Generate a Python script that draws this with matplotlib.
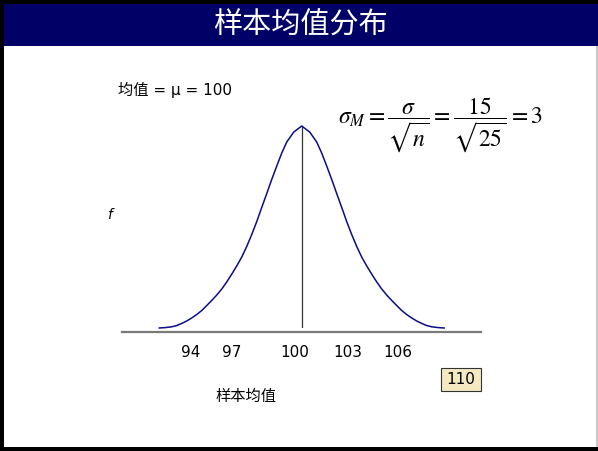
import numpy as np
import matplotlib
matplotlib.use("Agg")
import matplotlib.pyplot as plt
from matplotlib.patches import Rectangle
from matplotlib.transforms import Affine2D

plt.rcParams['font.family'] = ['DejaVu Sans', 'Noto Sans CJK SC']
plt.rcParams['mathtext.fontset'] = 'stix'

# ---- data ----
title = "样本均值分布"
mean_value = 100
# sampling-distribution outline (sample mean, relative frequency)
curve_x = [87.58, 88.14, 88.67, 89.10, 89.54, 89.97, 90.41, 90.85, 91.28,
           91.72, 92.15, 92.59, 93.03, 93.46, 93.90, 94.33, 94.77, 95.20,
           95.64, 96.08, 96.51, 96.95, 97.38, 97.82, 98.26, 98.69, 99.30,
           100.0,
           100.70, 101.31, 101.74, 102.18, 102.62, 103.05, 103.49, 103.92,
           104.36, 104.80, 105.23, 105.67, 106.10, 106.54, 106.97, 107.41,
           107.85, 108.28, 108.72, 109.15, 109.59, 110.03, 110.46, 110.90,
           111.33, 111.86, 112.42]
curve_f = [0.0, 0.0003, 0.0008, 0.0016, 0.0030, 0.0046, 0.0066, 0.0089,
           0.0115, 0.0148, 0.0181, 0.0217, 0.0257, 0.0303, 0.0355, 0.0408,
           0.0467, 0.0536, 0.0615, 0.0701, 0.0793, 0.0885, 0.0977, 0.1066,
           0.1152, 0.1224, 0.1290,
           0.1330,
           0.1290, 0.1224, 0.1152, 0.1066, 0.0977, 0.0885, 0.0793, 0.0701,
           0.0615, 0.0536, 0.0467, 0.0408, 0.0355, 0.0303, 0.0257, 0.0217,
           0.0181, 0.0148, 0.0115, 0.0089, 0.0066, 0.0046, 0.0030, 0.0016,
           0.0008, 0.0003, 0.0]
tick_labels = ["94", "97", "100", "103", "106"]
tick_positions = [90.35, 93.86, 99.42, 104.0, 108.37]
x_label = "样本均值"
mean_text = "均值 = μ = 100"
formula = r"$\sigma_{M} = \dfrac{\sigma}{\sqrt{n}} = \dfrac{15}{\sqrt{25}} = 3$"
box_text = "110"

W, H = 598, 451
fig = plt.figure(figsize=(W / 100, H / 100), dpi=100)
fig.patch.set_facecolor("black")

# pixel-from-top coordinate system for page furniture
pix = Affine2D().scale(1 / W, -1 / H).translate(0, 1) + fig.transFigure

fig.patches.append(Rectangle((4, 4), 592, 443, transform=pix,
                             facecolor="white", edgecolor="none", zorder=0))
fig.patches.append(Rectangle((596, 46), 2, 401, transform=pix,
                             facecolor="#c8c8c8", edgecolor="none", zorder=0))
fig.patches.append(Rectangle((4, 4), 594, 42, transform=pix,
                             facecolor="#000066", edgecolor="none", zorder=0))
fig.text(300, 26, title, transform=pix, color="white", fontsize=21,
         ha="center", va="center", family=["Noto Sans CJK SC"], zorder=2)

# ---- distribution axes ----
peak = max(curve_f)
ax = fig.add_axes([122 / W, (H - 328) / H, 359 / W, 202 / H])
ax.set_zorder(5)
ax.set_facecolor("none")
ax.plot(curve_x, curve_f, color="#0c0c88", lw=1.1, clip_on=False, zorder=3,
        solid_joinstyle="round")
ax.vlines(mean_value, 0, peak, color="#333333", lw=0.9, zorder=2)
ax.set_xlim(84.33, 115.63)
ax.set_ylim(0, peak)

for s in ["top", "left", "right"]:
    ax.spines[s].set_visible(False)
ax.spines["bottom"].set_position(("outward", 3))
ax.spines["bottom"].set_color("#7a7a7a")
ax.spines["bottom"].set_linewidth(1.6)
ax.set_yticks([])
ax.set_xticks(tick_positions, tick_labels)
ax.tick_params(axis="x", length=0, pad=9.5, labelsize=11, labelcolor="black")

# ---- annotations ----
fig.text(118, 90, mean_text, transform=pix, fontsize=11, ha="left", va="center", zorder=2)
fig.text(338, 125, formula, transform=pix, fontsize=17, ha="left", va="center", zorder=2)
fig.text(109, 215, "f", transform=pix, fontsize=10, style="italic",
         ha="center", va="center", zorder=2)
fig.text(246, 396, x_label, transform=pix, fontsize=11, ha="center", va="center", zorder=2)

fig.patches.append(Rectangle((441, 368), 40, 23, transform=pix,
                             facecolor="#f5e9c2", edgecolor="#333333", lw=0.8, zorder=1))
fig.text(461, 380, box_text, transform=pix, fontsize=11, ha="center", va="center", zorder=2)

fig.savefig("out.png", dpi=100, facecolor=fig.get_facecolor())
